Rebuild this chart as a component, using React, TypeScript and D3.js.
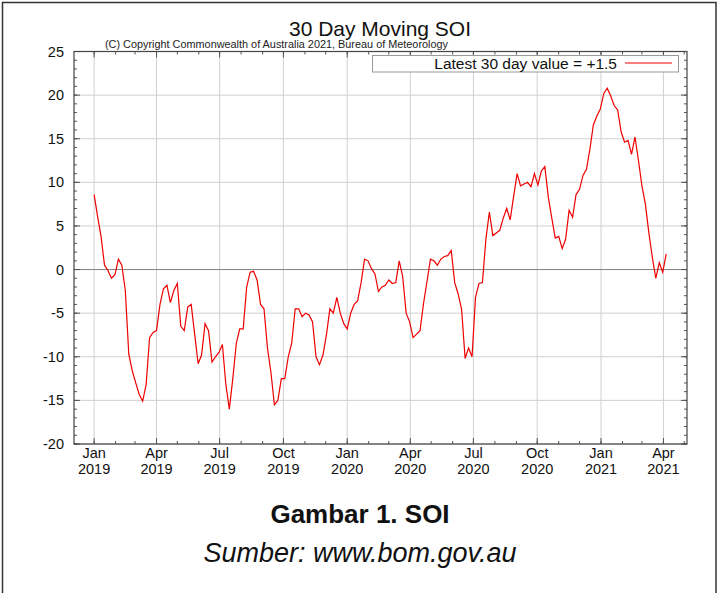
import React from 'react';
import * as d3 from 'd3';

// 30-day moving SOI, one reading every 5 days from 1 Jan 2019
const startDate = new Date(2019, 0, 1);
const stepDays = 5;
const soiValues = [
  8.6, 6.1, 3.8, 0.5, -0.1, -1.0, -0.6, 1.2, 0.5, -2.4,
  -9.7, -11.6, -13.0, -14.3, -15.1, -13.2, -7.8, -7.2, -7.0, -4.0,
  -2.2, -1.8, -3.8, -2.4, -1.6, -6.5, -7.0, -4.3, -4.0, -7.4,
  -10.8, -9.8, -6.2, -7.0, -10.6, -10.0, -9.5, -8.6, -13.2, -16.0,
  -12.5, -8.5, -6.8, -6.8, -2.0, -0.3, -0.2, -1.2, -4.0, -4.5,
  -9.0, -11.8, -15.5, -15.0, -12.5, -12.5, -10.0, -8.4, -4.5, -4.5,
  -5.4, -5.0, -5.2, -6.0, -10.0, -10.9, -9.8, -7.5, -4.5, -5.0,
  -3.2, -5.0, -6.2, -6.8, -5.0, -4.0, -3.6, -1.5, 1.2, 1.0,
  0.1, -0.5, -2.5, -2.0, -1.8, -1.2, -1.6, -1.5, 1.0, -0.8,
  -5.0, -6.0, -7.8, -7.4, -7.0, -3.9, -1.4, 1.2, 1.0, 0.5,
  1.2, 1.5, 1.6, 2.2, -1.5, -2.8, -4.6, -10.2, -9.0, -10.0,
  -3.2, -1.6, -1.5, 3.5, 6.6, 3.9, 4.2, 4.5, 5.9, 7.0,
  5.7, 8.4, 11.0, 9.6, 9.8, 10.0, 9.5, 11.0, 9.7, 11.3,
  11.8, 8.3, 5.9, 3.6, 3.8, 2.4, 3.5, 6.8, 6.0, 8.6,
  9.2, 10.8, 11.5, 13.8, 16.6, 17.6, 18.4, 20.2, 20.8, 19.9,
  18.8, 18.3, 15.8, 14.6, 14.8, 13.2, 15.2, 12.5, 9.6, 7.5,
  4.2, 1.4, -1.0, 0.8, -0.3, 1.8,
];
const yTicks = [-20, -15, -10, -5, 0, 5, 10, 15, 20, 25];
const latestLabel = 'Latest 30 day value = +1.5';

const FONT = 'Liberation Sans, Arial, Helvetica, sans-serif';

const App: React.FC = () => {
  const plot = { left: 74, right: 687, top: 51.5, bottom: 444 };

  const x = d3
    .scaleTime()
    .domain([new Date(2018, 11, 3), new Date(2021, 4, 5)])
    .range([plot.left, plot.right]);
  const y = d3.scaleLinear().domain([-20, 25]).range([plot.bottom, plot.top]);

  const points = soiValues.map((v, i) => ({
    date: d3.timeDay.offset(startDate, i * stepDays),
    value: v,
  }));

  const line = d3
    .line<{ date: Date; value: number }>()
    .x((d) => x(d.date))
    .y((d) => y(d.value));

  const quarterTicks = d3.timeMonth
    .range(new Date(2019, 0, 1), new Date(2021, 4, 2))
    .filter((d) => d.getMonth() % 3 === 0);
  const monthTicks = d3.timeMonth.range(x.domain()[0], x.domain()[1]);
  const yMinor = d3.range(-20, 26, 1);
  const fmtMonth = d3.timeFormat('%b');
  const fmtYear = d3.timeFormat('%Y');

  return (
    <div style={{ position: 'absolute', left: 0, top: 0 }}>
      <svg width={720} height={593} style={{ display: 'block', background: '#fff' }}>
        <rect x={2.5} y={2.5} width={713.5} height={640} fill="none" stroke="#333" strokeWidth={1.5} />

        {/* grid */}
        {quarterTicks.map((d) => (
          <line key={'gx' + d} x1={x(d)} x2={x(d)} y1={plot.top} y2={plot.bottom} stroke="#d0d0d0" />
        ))}
        {yTicks.map((t) => (
          <line
            key={'gy' + t}
            x1={plot.left}
            x2={plot.right}
            y1={y(t)}
            y2={y(t)}
            stroke={t === 0 ? '#808080' : '#d0d0d0'}
          />
        ))}

        {/* minor ticks */}
        {monthTicks.map((d) => (
          <g key={'mx' + d} stroke="#555">
            <line x1={x(d)} x2={x(d)} y1={plot.bottom} y2={plot.bottom - 3} />
            <line x1={x(d)} x2={x(d)} y1={plot.top} y2={plot.top + 3} />
          </g>
        ))}
        {yMinor.map((t) => (
          <g key={'my' + t} stroke="#555">
            <line x1={plot.left} x2={plot.left + 3} y1={y(t)} y2={y(t)} />
            <line x1={plot.right} x2={plot.right - 3} y1={y(t)} y2={y(t)} />
          </g>
        ))}
        {quarterTicks.map((d) => (
          <g key={'Mx' + d} stroke="#555">
            <line x1={x(d)} x2={x(d)} y1={plot.bottom} y2={plot.bottom - 6} />
            <line x1={x(d)} x2={x(d)} y1={plot.top} y2={plot.top + 6} />
          </g>
        ))}
        {yTicks.map((t) => (
          <g key={'My' + t} stroke="#555">
            <line x1={plot.left} x2={plot.left + 6} y1={y(t)} y2={y(t)} />
            <line x1={plot.right} x2={plot.right - 6} y1={y(t)} y2={y(t)} />
          </g>
        ))}

        <path d={line(points) || ''} fill="none" stroke="#ee0000" strokeWidth={1.2} />

        <rect
          x={plot.left}
          y={plot.top}
          width={plot.right - plot.left}
          height={plot.bottom - plot.top}
          fill="none"
          stroke="#444"
          strokeWidth={1.2}
        />

        {/* tick labels */}
        {yTicks.map((t) => (
          <text key={'ly' + t} x={64} y={y(t) + 5} textAnchor="end" fontFamily={FONT} fontSize={14.5} fill="#111">
            {t}
          </text>
        ))}
        {quarterTicks.map((d) => (
          <text key={'lx' + d} textAnchor="middle" fontFamily={FONT} fontSize={14.5} fill="#111">
            <tspan x={x(d)} y={458}>
              {fmtMonth(d)}
            </tspan>
            <tspan x={x(d)} y={474}>
              {fmtYear(d)}
            </tspan>
          </text>
        ))}

        {/* titles */}
        <text x={380} y={36} textAnchor="middle" fontFamily={FONT} fontSize={21} fill="#111">
          30 Day Moving SOI
        </text>
        <text
          x={105}
          y={47.5}
          fontFamily={FONT}
          fontSize={10}
          fill="#222"
          textLength={343}
          lengthAdjust="spacingAndGlyphs"
        >
          (C) Copyright Commonwealth of Australia 2021, Bureau of Meteorology
        </text>

        {/* legend */}
        <rect x={372.5} y={55.5} width={306} height={16.5} fill="#fff" stroke="#999" />
        <text x={617} y={69} textAnchor="end" fontFamily={FONT} fontSize={15.5} fill="#111">
          {latestLabel}
        </text>
        <line x1={625} x2={672} y1={63} y2={63} stroke="#ee0000" strokeWidth={1.2} />

        {/* caption */}
        <text x={360} y={523} textAnchor="middle" fontFamily={FONT} fontSize={26} fontWeight="bold" fill="#111">
          Gambar 1. SOI
        </text>
        <text x={360} y={562} textAnchor="middle" fontFamily={FONT} fontSize={27} fontStyle="italic" fill="#111">
          Sumber: www.bom.gov.au
        </text>
      </svg>
    </div>
  );
};

export default App;
